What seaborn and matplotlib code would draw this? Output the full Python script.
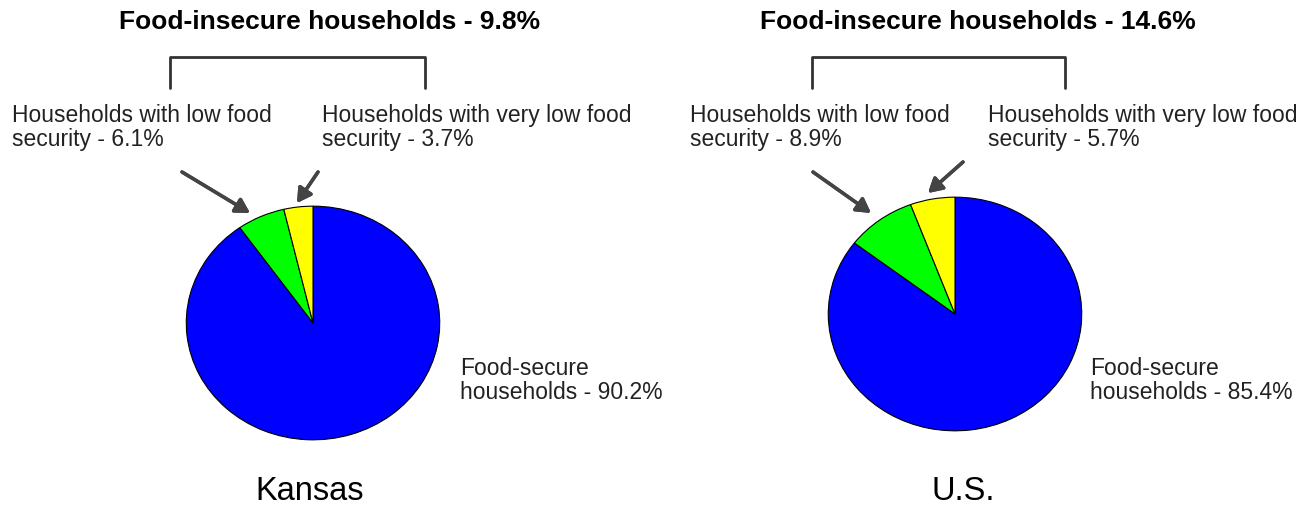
import matplotlib
matplotlib.use("Agg")
import matplotlib.pyplot as plt
from matplotlib.lines import Line2D
import seaborn as sns

sns.set_theme(style="white")
plt.rcParams["font.family"] = ["Liberation Sans", "DejaVu Sans"]

# Household food security shares (%)
regions = ["Kansas", "U.S."]
food_secure = [90.2, 85.4]
low_security = [6.1, 8.9]
very_low_security = [3.7, 5.7]
food_insecure = [9.8, 14.6]

slice_colors = ["#0000FF", "#00FF00", "#FFFF00"]

W, H = 1302, 508
fig = plt.figure(figsize=(W / 100, H / 100), dpi=100)
fig.patch.set_facecolor("white")


def fx(px):
    return px / W


def fy(py):
    return 1 - py / H


# layout per region: pie centre, radii, title centre, bracket, label anchors, arrows
layout = [
    dict(cx=313, cy=323, rx=128, ry=118, title_x=330,
         br=(170, 425), low_x=12, vlow_x=322, sec_x=460, name_x=310,
         arrows=[((182, 172), (250, 213)), ((318, 172), (297, 203))]),
    dict(cx=955, cy=314, rx=128, ry=118, title_x=978,
         br=(812, 1065), low_x=690, vlow_x=988, sec_x=1090, name_x=963,
         arrows=[((813, 172), (871, 213)), ((963, 162), (928, 193))]),
]

for i, L in enumerate(layout):
    ax = fig.add_axes([fx(L["cx"] - L["rx"]), fy(L["cy"] + L["ry"]),
                       2 * L["rx"] / W, 2 * L["ry"] / H])
    ax.pie([food_secure[i], low_security[i], very_low_security[i]],
           colors=slice_colors, startangle=90, counterclock=False,
           wedgeprops=dict(edgecolor="black", linewidth=0.8))
    ax.set_aspect("auto")
    ax.set_xlim(-1.01, 1.01)
    ax.set_ylim(-1.01, 1.01)
    ax.axis("off")

    fig.text(fx(L["title_x"]), fy(22), f"Food-insecure households - {food_insecure[i]}%",
             ha="center", va="center", fontsize=19, fontweight="bold", color="black")

    x0, x1 = L["br"]
    fig.add_artist(Line2D([fx(x0), fx(x0), fx(x1), fx(x1)],
                          [fy(88), fy(57), fy(57), fy(88)],
                          color="#333333", lw=2))

    fig.text(fx(L["low_x"]), fy(104),
             f"Households with low food\nsecurity - {low_security[i]}%",
             ha="left", va="top", fontsize=16.5, linespacing=1.05, color="#222222")
    fig.text(fx(L["vlow_x"]), fy(104),
             f"Households with very low food\nsecurity - {very_low_security[i]}%",
             ha="left", va="top", fontsize=16.5, linespacing=1.05, color="#222222")
    fig.text(fx(L["sec_x"]), fy(357),
             f"Food-secure\nhouseholds - {food_secure[i]}%",
             ha="left", va="top", fontsize=16.5, linespacing=1.05, color="#222222")

    for (sx, sy), (tx, ty) in L["arrows"]:
        fig.add_artist(plt.annotate(
            "", xy=(fx(tx), fy(ty)), xytext=(fx(sx), fy(sy)),
            xycoords="figure fraction", textcoords="figure fraction",
            arrowprops=dict(arrowstyle="-|>,head_length=0.7,head_width=0.4",
                            color="#444444", lw=2.5, shrinkA=0, shrinkB=0)))

    fig.text(fx(L["name_x"]), fy(492), regions[i], ha="center", va="center",
             fontsize=23.5, color="black")

fig.savefig("out.png", dpi=100, facecolor="white")
